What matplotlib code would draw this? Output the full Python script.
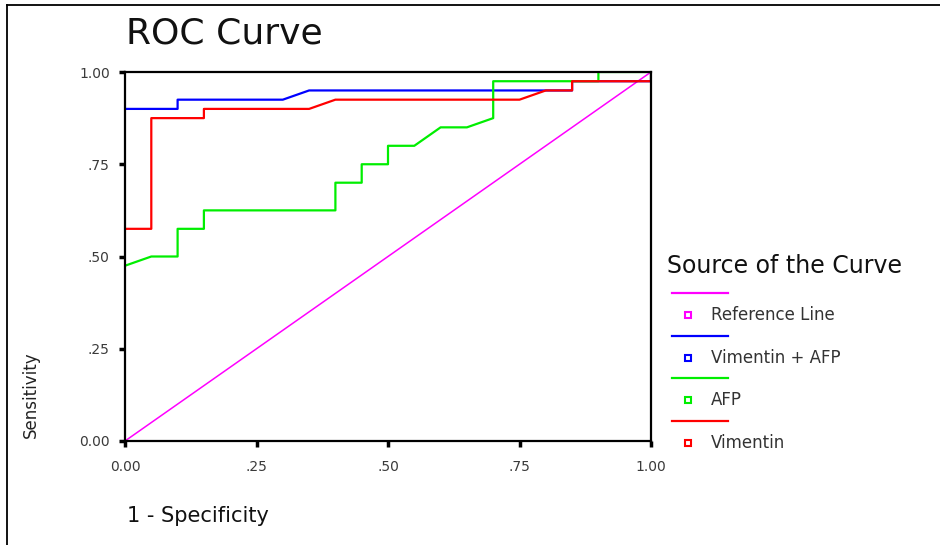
import matplotlib
matplotlib.use('Agg')
import matplotlib.pyplot as plt
from matplotlib.lines import Line2D

plt.rcParams['font.family'] = ['DejaVu Sans']

# ---- data ----
ref_x = [0.0, 1.0]
ref_y = [0.0, 1.0]

combo_fpr = [0.0, 0.1, 0.1, 0.3, 0.35, 0.85, 0.85, 1.0, 1.0]
combo_tpr = [0.9, 0.9, 0.925, 0.925, 0.95, 0.95, 0.975, 0.975, 1.0]

afp_fpr = [0.0, 0.05, 0.1, 0.1, 0.15, 0.15, 0.4, 0.4, 0.45, 0.45, 0.5, 0.5,
           0.55, 0.6, 0.65, 0.7, 0.7, 0.9, 0.9, 1.0]
afp_tpr = [0.475, 0.5, 0.5, 0.575, 0.575, 0.625, 0.625, 0.7, 0.7, 0.75, 0.75, 0.8,
           0.8, 0.85, 0.85, 0.875, 0.975, 0.975, 1.0, 1.0]

vim_fpr = [0.0, 0.05, 0.05, 0.15, 0.15, 0.35, 0.4, 0.75, 0.8, 0.85, 0.85, 1.0, 1.0]
vim_tpr = [0.575, 0.575, 0.875, 0.875, 0.9, 0.9, 0.925, 0.925, 0.95, 0.95, 0.975, 0.975, 1.0]

tick_vals = [0.0, 0.25, 0.5, 0.75, 1.0]
tick_labels = ['0.00', '.25', '.50', '.75', '1.00']

legend_names = ['Reference Line', 'Vimentin + AFP', 'AFP', 'Vimentin']
legend_colors = ['#FF00FF', '#0000FF', '#00EE00', '#FF0000']

# ---- figure ----
W, H = 940, 545
fig = plt.figure(figsize=(W / 100, H / 100), dpi=100)


def fx(px):
    return px / W


def fy(py):
    return 1 - py / H


ax = fig.add_axes([fx(125), fy(441), fx(651) - fx(125), fy(72) - fy(441)])
ax.set_xlim(0, 1)
ax.set_ylim(0, 1)

ax.plot(ref_x, ref_y, color=legend_colors[0], lw=1.1, zorder=2)
ax.plot(combo_fpr, combo_tpr, color=legend_colors[1], lw=1.6, zorder=3)
ax.plot(afp_fpr, afp_tpr, color=legend_colors[2], lw=1.6, zorder=4)
ax.plot(vim_fpr, vim_tpr, color=legend_colors[3], lw=1.6, zorder=5)

ax.set_xticks(tick_vals)
ax.set_xticklabels(tick_labels)
ax.set_yticks(tick_vals)
ax.set_yticklabels(tick_labels)
ax.tick_params(direction='out', length=4, width=2.5, color='black',
               labelcolor='#3a3a3a', labelsize=10)
ax.tick_params(axis='x', pad=9.5)
ax.tick_params(axis='y', pad=7)
for s in ax.spines.values():
    s.set_linewidth(1.6)
    s.set_color('black')
    s.set_zorder(6)

# titles / labels
fig.text(fx(126), fy(33), 'ROC Curve', fontsize=26, ha='left', va='center', color='#111111')
fig.text(fx(127), fy(516), '1 - Specificity', fontsize=15, ha='left', va='center', color='#111111')
fig.text(fx(31), fy(395), 'Sensitivity', fontsize=12, ha='center', va='center',
         rotation=90, color='#222222')

# legend (manual, SPSS style)
fig.text(fx(667), fy(266), 'Source of the Curve', fontsize=17, ha='left', va='center',
         color='#111111')
line_y0 = 293
step = 42.7
for i, (name, col) in enumerate(zip(legend_names, legend_colors)):
    ly = line_y0 + i * step
    fig.add_artist(Line2D([fx(672), fx(728)], [fy(ly), fy(ly)], color=col, lw=1.6))
    fig.add_artist(Line2D([fx(688)], [fy(ly + 22)], marker='s', markersize=5,
                          markerfacecolor='white', markeredgecolor=col,
                          markeredgewidth=1.5, linestyle='none'))
    fig.text(fx(711), fy(ly + 22), name, fontsize=12, ha='left', va='center',
             color='#333333')

# outer frame (left and top edges visible)
fig.add_artist(Line2D([fx(7), fx(7)], [fy(5), 0], color='black', lw=1.3))
fig.add_artist(Line2D([fx(7), 1], [fy(5), fy(5)], color='black', lw=1.3))

fig.savefig('out.png', dpi=100)
